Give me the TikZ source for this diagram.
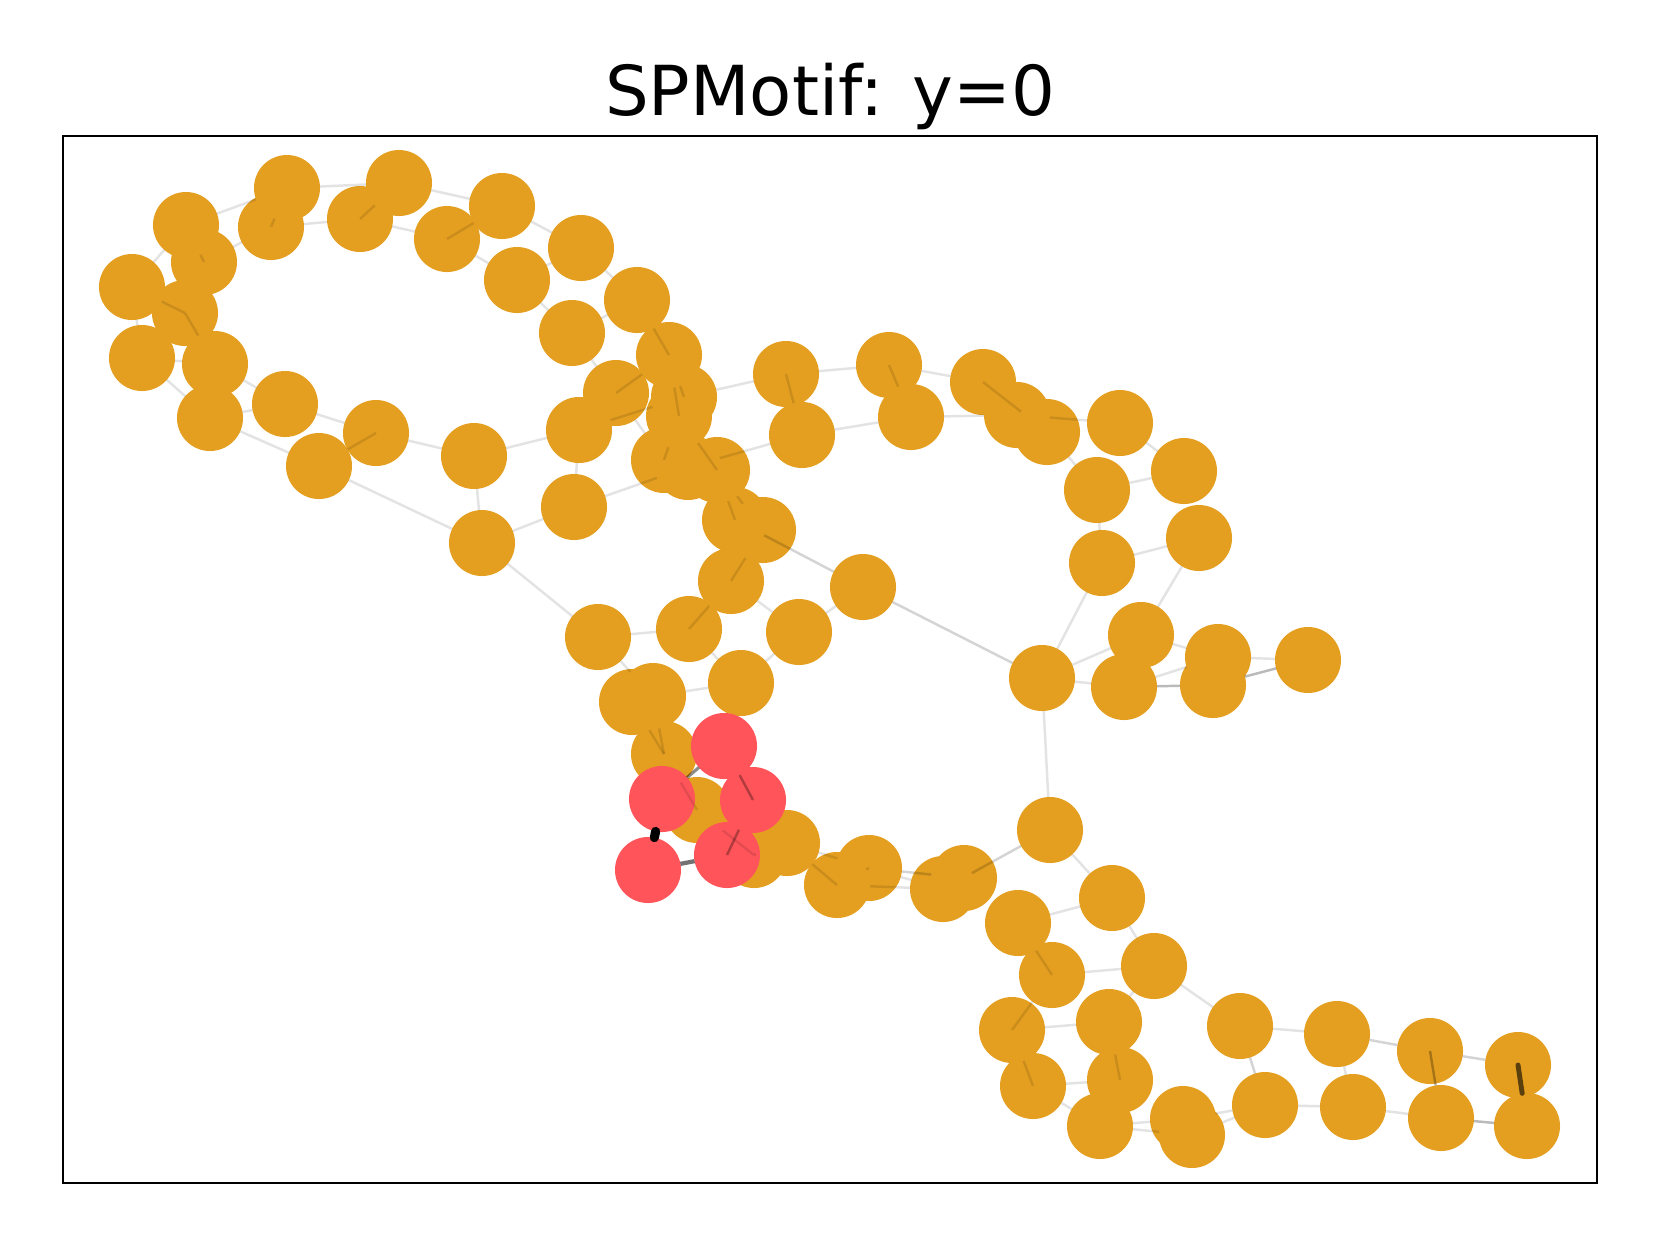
\documentclass[tikz,border=0pt]{standalone}
\usepackage{fontspec}
\setmainfont{DejaVu Sans}
\definecolor{nodeor}{RGB}{228,159,32}
\definecolor{nodered}{RGB}{255,85,90}
\begin{document}
\begin{tikzpicture}[x=0.01cm,y=-0.01cm,
  nd/.style={circle,fill=nodeor,draw=none,minimum size=0.66cm,inner sep=0pt,outer sep=0pt},
  rd/.style={nd,fill=nodered},
  ed/.style={draw=black,draw opacity=0.11,line width=0.7pt},
  edm/.style={ed,draw opacity=0.17},
  edd/.style={ed,draw opacity=0.27},
  ]
\useasboundingbox (0,0) rectangle (1660,1245);
\node[font=\fontsize{19.6pt}{23pt}\selectfont,anchor=base] (title) at (830,115) {SPMotif: y=0};
\draw[line width=0.7pt] (63,136) rectangle (1597,1183);
% orange nodes
\node[nd] (n1) at (287,188) {};
\node[nd] (n2) at (271,227) {};
\node[nd] (n3) at (186,225) {};
\node[nd] (n4) at (204,262) {};
\node[nd] (n5) at (132,287) {};
\node[nd] (n6) at (185,313) {};
\node[nd] (n7) at (142,358) {};
\node[nd] (n8) at (215,364) {};
\node[nd] (n9) at (210,418) {};
\node[nd] (n10) at (285,404) {};
\node[nd] (n11) at (319,466) {};
\node[nd] (n12) at (376,433) {};
\node[nd] (n13) at (474,456) {};
\node[nd] (n14) at (482,543) {};
\node[nd] (n15) at (399,183) {};
\node[nd] (n16) at (360,219) {};
\node[nd] (n17) at (447,239) {};
\node[nd] (n18) at (502,206) {};
\node[nd] (n19) at (581,248) {};
\node[nd] (n20) at (517,280) {};
\node[nd] (n21) at (637,300) {};
\node[nd] (n22) at (572,333) {};
\node[nd] (n23) at (669,355) {};
\node[nd] (n24) at (616,393) {};
\node[nd] (n25) at (579,430) {};
\node[nd] (n26) at (574,507) {};
\node[nd] (n23b) at (684,397) {};
\node[nd] (n23c) at (679,416) {};
\node[nd] (n27) at (664,460) {};
\node[nd] (n28) at (688,467) {};
\node[nd] (n29) at (717,470) {};
\node[nd] (n30) at (735,520) {};
\node[nd] (n31) at (763,530) {};
\node[nd] (n32) at (731,581) {};
\node[nd] (n33) at (689,629) {};
\node[nd] (n34) at (598,637) {};
\node[nd] (n35) at (799,632) {};
\node[nd] (n36) at (863,587) {};
\node[nd] (n37) at (741,683) {};
\node[nd] (n38a) at (632,702) {};
\node[nd] (n38b) at (653,696) {};
\node[nd] (n39) at (664,754) {};
\node[nd] (n40) at (697,810) {};
\node[nd] (n41a) at (787,843) {};
\node[nd] (n41b) at (754,855) {};
\node[nd] (n43a) at (786,374) {};
\node[nd] (n43b) at (802,435) {};
\node[nd] (n44a) at (889,365) {};
\node[nd] (n44b) at (911,417) {};
\node[nd] (n45a) at (983,382) {};
\node[nd] (n45b) at (1017,415) {};
\node[nd] (n45c) at (1047,432) {};
\node[nd] (n46) at (1120,423) {};
\node[nd] (n47) at (1184,471) {};
\node[nd] (n48) at (1097,490) {};
\node[nd] (n49) at (1199,538) {};
\node[nd] (n50) at (1102,563) {};
\node[nd] (n51) at (1141,635) {};
\node[nd] (n52) at (1042,678) {};
\node[nd] (n53) at (1124,687) {};
\node[nd] (n54) at (1218,657) {};
\node[nd] (n55) at (1213,685) {};
\node[nd] (n56) at (1308,660) {};
\node[nd] (n57) at (1050,830) {};
\node[nd] (n58) at (1112,898) {};
\node[nd] (n59) at (1154,966) {};
\node[nd] (n60) at (1018,923) {};
\node[nd] (n61) at (1052,975) {};
\node[nd] (n62a) at (837,885) {};
\node[nd] (n62b) at (869,868) {};
\node[nd] (n63a) at (943,889) {};
\node[nd] (n63b) at (964,878) {};
\node[nd] (n64) at (1012,1030) {};
\node[nd] (n65) at (1109,1022) {};
\node[nd] (n66) at (1033,1086) {};
\node[nd] (n67) at (1120,1080) {};
\node[nd] (n68) at (1100,1126) {};
\node[nd] (n69a) at (1183,1119) {};
\node[nd] (n69b) at (1192,1135) {};
\node[nd] (n70) at (1240,1026) {};
\node[nd] (n71) at (1265,1105) {};
\node[nd] (n72) at (1337,1034) {};
\node[nd] (n73) at (1353,1107) {};
\node[nd] (n74) at (1430,1051) {};
\node[nd] (n75) at (1441,1118) {};
\node[nd] (n76) at (1518,1065) {};
\node[nd] (n77) at (1527,1126) {};
% motif nodes
\node[rd] (r1) at (724,746) {};
\node[rd] (r2) at (662,799) {};
\node[rd] (r3) at (753,800) {};
\node[rd] (r4) at (648,870) {};
\node[rd] (r5) at (727,855) {};
% edges
\draw[ed] (n1) -- (n3);
\draw[ed] (n1) -- (n2.center);
\draw[ed] (n1) -- (n15);
\draw[ed] (n2) -- (n4);
\draw[ed] (n2) -- (n16);
\draw[ed] (n3) -- (n5);
\draw[ed] (n3) -- (n4.center);
\draw[ed] (n5) -- (n6.center);
\draw[ed] (n5) -- (n7);
\draw[ed] (n8) -- (n6.center);
\draw[ed] (n7) -- (n8);
\draw[ed] (n7) -- (n9);
\draw[ed] (n8) -- (n10);
\draw[ed] (n9) -- (n10);
\draw[ed] (n9) -- (n11);
\draw[ed] (n10) -- (n12);
\draw[ed] (n11) -- (n12.center);
\draw[ed] (n12) -- (n13);
\draw[ed] (n13) -- (n14);
\draw[ed] (n13) -- (n25);
\draw[ed] (n11) -- (n14);
\draw[ed] (n14) -- (n26);
\draw[ed] (n14) -- (n34);
\draw[ed] (n15) -- (n16.center);
\draw[ed] (n15) -- (n18);
\draw[ed] (n16) -- (n17);
\draw[ed] (n18) -- (n17.center);
\draw[ed] (n17) -- (n20);
\draw[ed] (n18) -- (n19);
\draw[ed] (n19) -- (n20);
\draw[ed] (n19) -- (n21);
\draw[ed] (n20) -- (n22);
\draw[ed] (n21) -- (n22);
\draw[ed] (n21) -- (n23.center);
\draw[ed] (n22) -- (n24);
\draw[ed] (n23) -- (n24.center);
\draw[ed] (n24) -- (n27);
\draw[ed] (n25) -- (n23b);
\draw[ed] (n25) -- (n26);
\draw[ed] (n26) -- (n28);
\draw[ed] (n23) -- (n23b.center);
\draw[ed] (n23) -- (n23c.center);
\draw[ed] (n23c) -- (n27.center);
\draw[ed] (n23c) -- (n29.center);
\draw[ed] (n23b) -- (n43a);
\draw[ed] (n28) -- (n43b);
\draw[ed] (n29) -- (n30.center);
\draw[ed] (n29) -- (n31);
\draw[edm] (n30) -- (n36);
\draw[ed] (n31) -- (n32.center);
\draw[ed] (n32) -- (n33.center);
\draw[ed] (n32) -- (n35);
\draw[ed] (n33) -- (n34);
\draw[ed] (n33) -- (n37);
\draw[ed] (n35) -- (n36);
\draw[ed] (n35) -- (n37);
\draw[ed] (n34) -- (n38b);
\draw[ed] (n38b) -- (n37);
\draw[ed] (n38a) -- (n39.center);
\draw[ed] (n38b) -- (n39.center);
\draw[ed] (n39) -- (n40.center);
\draw[ed] (n40) -- (n41b.center);
\draw[ed] (n41a) -- (n41b.center);
\draw[ed] (n41a) -- (n62a.center);
\draw[ed] (n41a) -- (n62b);
\draw[ed] (n62a) -- (n62b.center);
\draw[ed] (n62a) -- (n63a);
\draw[ed] (n62b) -- (n63a);
\draw[edm] (n62b) -- (n63b);
\draw[edm] (n63a) -- (n57);
\draw[ed] (n43b) -- (n43a.center);
\draw[ed] (n43a) -- (n44a);
\draw[ed] (n43b) -- (n44b);
\draw[ed] (n44b) -- (n44a.center);
\draw[ed] (n44a) -- (n45a);
\draw[ed] (n44b) -- (n45b);
\draw[ed] (n45a.center) -- (n45c);
\draw[ed] (n45b) -- (n46);
\draw[ed] (n45c) -- (n48);
\draw[ed] (n46) -- (n47);
\draw[ed] (n47) -- (n48);
\draw[ed] (n48) -- (n50);
\draw[ed] (n50) -- (n49);
\draw[ed] (n49) -- (n51);
\draw[ed] (n50) -- (n52);
\draw[ed] (n52) -- (n51);
\draw[ed] (n52) -- (n53);
\draw[ed] (n51) -- (n54);
\draw[ed] (n53) -- (n54);
\draw[edd] (n53) -- (n55);
\draw[ed] (n54) -- (n56);
\draw[edd] (n55) -- (n56);
\draw[edm] (n36) -- (n52);
\draw[ed] (n52) -- (n57);
\draw[ed] (n57) -- (n58);
\draw[ed] (n58) -- (n59);
\draw[ed] (n58) -- (n60);
\draw[ed] (n60) -- (n61.center);
\draw[ed] (n61) -- (n59);
\draw[ed] (n61) -- (n64.center);
\draw[ed] (n59) -- (n65);
\draw[ed] (n59) -- (n70);
\draw[ed] (n64) -- (n65);
\draw[ed] (n64) -- (n66.center);
\draw[ed] (n66) -- (n67);
\draw[ed] (n65) -- (n67.center);
\draw[ed] (n66) -- (n68);
\draw[ed] (n68) -- (n69a);
\draw[ed] (n68) -- (n69b);
\draw[ed] (n69a) -- (n71);
\draw[ed] (n69b) -- (n71);
\draw[edm] (n70) -- (n71);
\draw[ed] (n70) -- (n72);
\draw[ed] (n72) -- (n73);
\draw[edm] (n72) -- (n74);
\draw[ed] (n71) -- (n73);
\draw[ed] (n73) -- (n75);
\draw[edd] (n75) -- (n74.center);
\draw[edm] (n74) -- (n76);
\draw[edd] (n75) -- (n77);
\draw[draw=black,draw opacity=0.6,line width=1.4pt,line cap=round] (n77) -- (n76.center);
% motif edges
\draw[draw=black,draw opacity=0.45,line width=0.9pt] (r2) -- (r1);
\draw[ed,draw opacity=0.3] (r1) -- (r3.center);
\draw[ed,draw opacity=0.3] (r3) -- (r5.center);
\draw[black,line width=2.6pt,line cap=round] (r2) -- (r4);
\draw[draw=black,draw opacity=0.55,line width=1.2pt] (r4) -- (r5);
\end{tikzpicture}
\end{document}
